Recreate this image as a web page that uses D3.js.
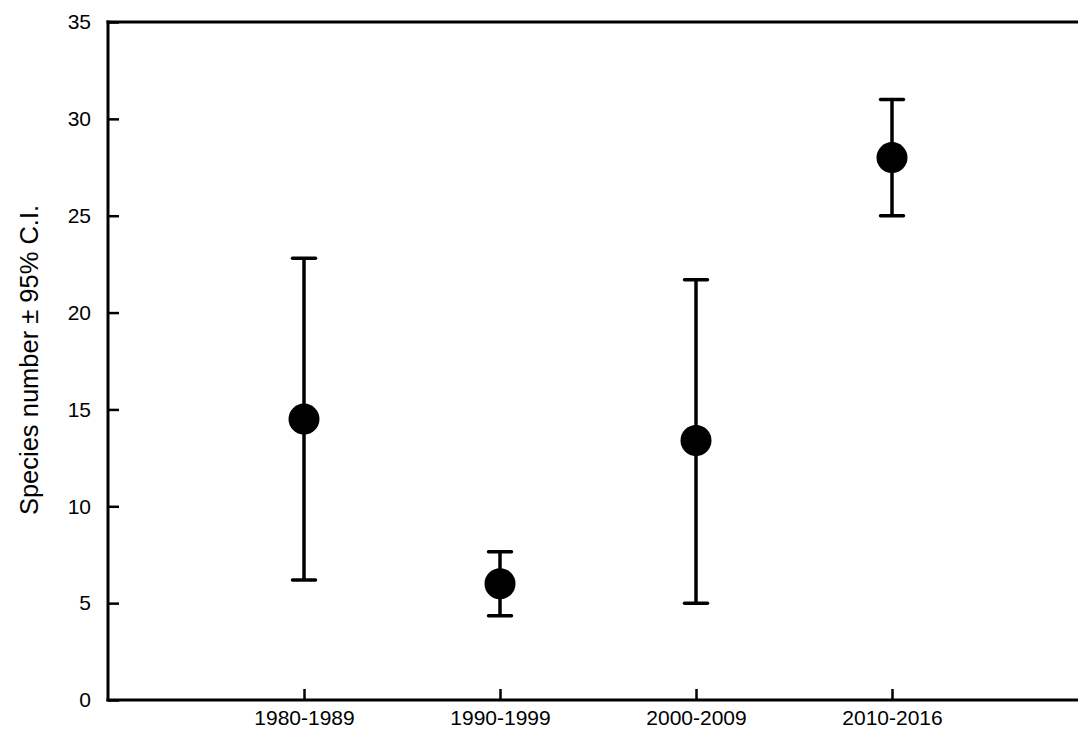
<!DOCTYPE html>
<html>
<head>
<meta charset="utf-8">
<script src="https://cdn.jsdelivr.net/npm/d3@7"></script>
<style>
  html, body { margin: 0; padding: 0; background: #ffffff; }
  svg { display: block; }
  text { font-family: "Liberation Sans", Arial, sans-serif; fill: #000; }
</style>
</head>
<body>
<svg id="chart" width="1078" height="732"></svg>
<script>
// Data
const categories = ["1980-1989", "1990-1999", "2000-2009", "2010-2016"];
const means = [14.5, 6.0, 13.4, 28.0];
const lowerCI = [6.2, 4.35, 5.0, 25.0];
const upperCI = [22.8, 7.65, 21.7, 31.0];
const yTicks = [0, 5, 10, 15, 20, 25, 30, 35];
const yLabel = "Species number \u00b1 95% C.I.";

const svg = d3.select("#chart");
const W = 1078, H = 732;

const x = d3.scaleLinear().domain([0, 5]).range([108, 1088]);
const y = d3.scaleLinear().domain([0, 35]).range([700, 22]);

// Y axis
const yAxis = d3.axisLeft(y).tickValues(yTicks).tickSize(-11).tickPadding(17).tickFormat(d3.format("d"));
const gy = svg.append("g").attr("transform", "translate(108,0)").call(yAxis);
gy.select(".domain").remove();
gy.selectAll(".tick line").attr("stroke", "#000").attr("stroke-width", 2.5);
gy.selectAll(".tick text").style("font-size", "21px").style("font-family", "Liberation Sans, Arial, sans-serif");

// X axis
const xAxis = d3.axisBottom(x).tickValues([1, 2, 3, 4]).tickSize(-11).tickPadding(10)
  .tickFormat((d) => categories[d - 1]);
const gx = svg.append("g").attr("transform", "translate(0,700)").call(xAxis);
gx.select(".domain").remove();
gx.selectAll(".tick line").attr("stroke", "#000").attr("stroke-width", 2.5);
gx.selectAll(".tick text").style("font-size", "21px").style("font-family", "Liberation Sans, Arial, sans-serif");

// Frame lines: left, bottom, top
svg.append("line").attr("x1", 108).attr("x2", 108).attr("y1", y(35) - 1.5).attr("y2", y(0) + 1.5)
  .attr("stroke", "#000").attr("stroke-width", 3);
svg.append("line").attr("x1", 106.5).attr("x2", W).attr("y1", y(0)).attr("y2", y(0))
  .attr("stroke", "#000").attr("stroke-width", 3);
svg.append("line").attr("x1", 106.5).attr("x2", W).attr("y1", y(35)).attr("y2", y(35))
  .attr("stroke", "#000").attr("stroke-width", 3);

// Y label
svg.append("text")
  .attr("transform", `translate(38,360) rotate(-90)`)
  .attr("text-anchor", "middle")
  .style("font-size", "25.5px")
  .text(yLabel);

// Error bars
const data = categories.map((c, i) => ({ i: i + 1, m: means[i], lo: lowerCI[i], hi: upperCI[i] }));
const capHalf = 11.5;
const g = svg.append("g");
g.selectAll("line.v").data(data).join("line").attr("class", "v")
  .attr("x1", d => x(d.i)).attr("x2", d => x(d.i))
  .attr("y1", d => y(d.lo)).attr("y2", d => y(d.hi))
  .attr("stroke", "#000").attr("stroke-width", 3.5);
g.selectAll("line.capHi").data(data).join("line").attr("class", "capHi")
  .attr("x1", d => x(d.i) - capHalf).attr("x2", d => x(d.i) + capHalf)
  .attr("y1", d => y(d.hi)).attr("y2", d => y(d.hi))
  .attr("stroke", "#000").attr("stroke-width", 3.5).attr("stroke-linecap", "round");
g.selectAll("line.capLo").data(data).join("line").attr("class", "capLo")
  .attr("x1", d => x(d.i) - capHalf).attr("x2", d => x(d.i) + capHalf)
  .attr("y1", d => y(d.lo)).attr("y2", d => y(d.lo))
  .attr("stroke", "#000").attr("stroke-width", 3.5).attr("stroke-linecap", "round");
g.selectAll("circle").data(data).join("circle")
  .attr("cx", d => x(d.i)).attr("cy", d => y(d.m)).attr("r", 15.5)
  .attr("fill", "#000");
</script>
</body>
</html>
